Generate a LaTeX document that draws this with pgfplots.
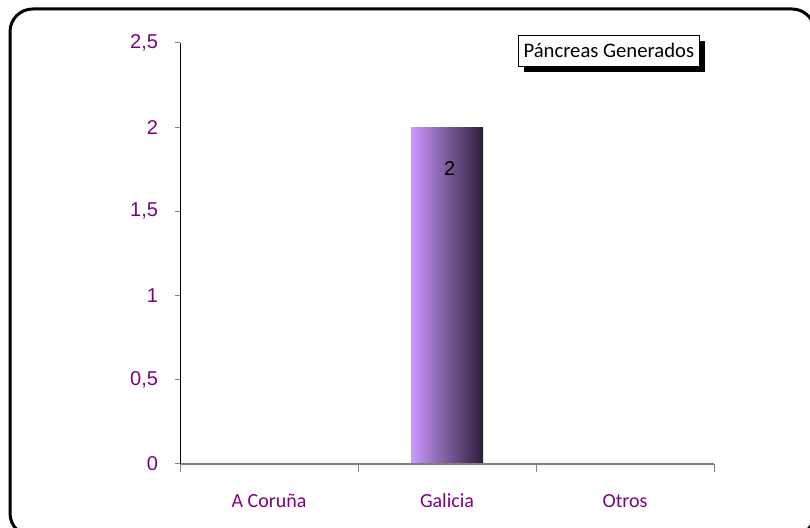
\documentclass[border=0pt]{standalone}
\usepackage{fontspec}
\setmainfont{Carlito}
\newfontfamily\arial{Liberation Sans}
\usepackage{pgfplots}
\pgfplotsset{compat=1.18}
\usetikzlibrary{shadows}
\definecolor{tickpurple}{HTML}{800080}
\definecolor{barlight}{HTML}{CC99FF}
\definecolor{bardark}{HTML}{2A1E38}
\definecolor{axisgray}{HTML}{808080}

\begin{document}
\begin{tikzpicture}
\useasboundingbox (0,0) rectangle (607.5pt,396pt);
% outer chart frame
\draw[line width=2.25pt, rounded corners=17pt] (7.5pt,-6pt) rectangle (611pt,389.25pt);

\begin{axis}[
    at={(135pt,48pt)}, anchor=south west,
    scale only axis,
    width=400.5pt, height=315.75pt,
    ybar, bar width=54pt, bar shift=0pt,
    xmin=-0.5, xmax=2.5,
    ymin=0, ymax=2.5,
    axis x line=bottom, axis y line=left,
    axis line style={-},
    x axis line style={axisgray, line width=1pt},
    y axis line style={black, line width=0.75pt},
    xtick={0,1,2},
    xticklabels={A Coruña, Galicia, Otros},
    major x tick style={draw=none},
    minor xtick={-0.5,0.5,1.5,2.5},
    minor tick length=6pt,
    minor x tick style={axisgray, line width=0.75pt},
    tick align=outside,
    ytick={0,0.5,1,1.5,2,2.5},
    major tick length=4pt,
    y tick style={axisgray, line width=0.75pt},
    /pgf/number format/use comma,
    /pgf/number format/assume math mode=true,
    yticklabel style={font=\arial\fontsize{15}{18}\selectfont, text=tickpurple, xshift=-9pt},
    xticklabel style={font=\fontsize{15}{18}\selectfont, text=tickpurple, yshift=-15pt},
    axis on top,
    nodes near coords,
    every node near coord/.append style={font=\arial\fontsize{15}{18}\selectfont, text=black, anchor=center, yshift=-31pt, xshift=2pt},
    legend image code/.code={},
    legend style={at={(0.974,1.019)}, anchor=north east,
        draw=black, line width=1pt, fill=white,
        font=\fontsize{15.5}{19}\selectfont,
        inner xsep=2pt, inner ysep=3.5pt,
        drop shadow={shadow xshift=4pt, shadow yshift=-4pt, fill=black, opacity=1}},
]
\addplot[draw=none, left color=barlight, right color=bardark]
    coordinates {(1,2)};
\addlegendentry{Páncreas Generados}
\end{axis}
\end{tikzpicture}
\end{document}
